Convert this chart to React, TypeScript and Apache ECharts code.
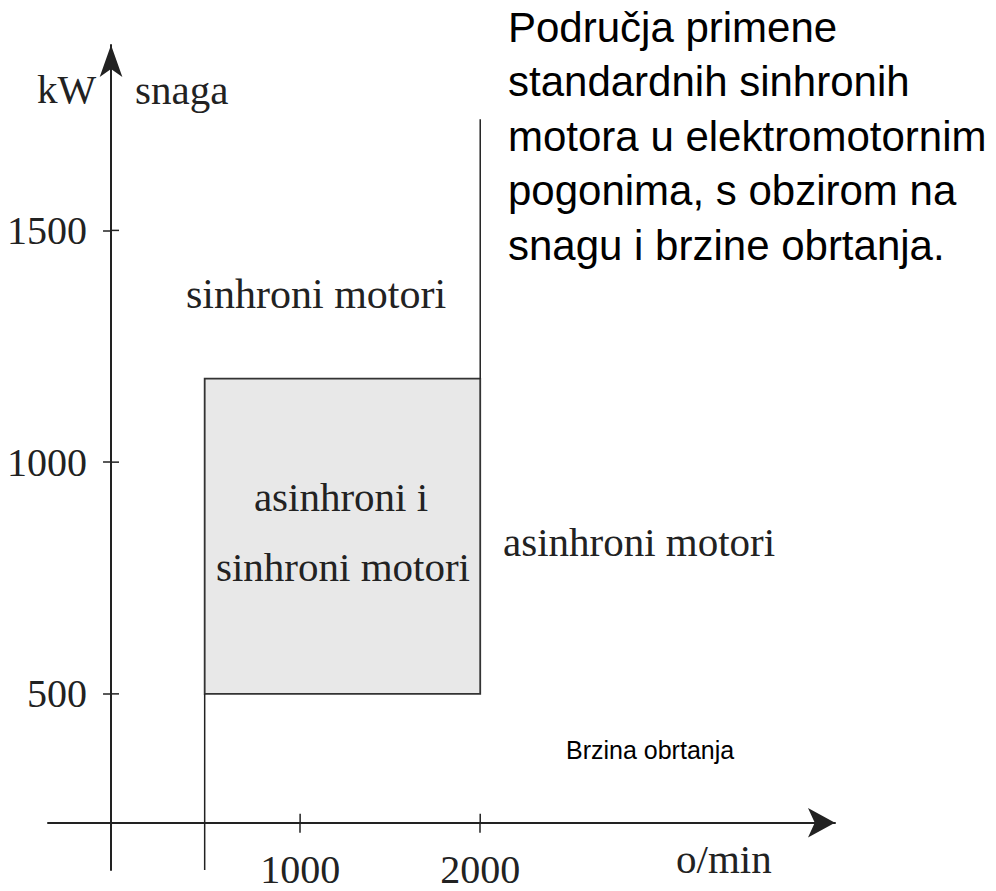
import React, { useEffect, useRef } from "react";
import * as echarts from "echarts";

// Axis extents (x: o/min, y: kW)
const speedRange = [-400, 3970];
const powerRange = [120, 1900];
// Where the axes cross each other
const axisCrossSpeed = -50;
const axisCrossPower = 222;
// Tick values
const speedTicks = [1000, 2000];
const powerTicks = [500, 1000, 1500];
// Shaded region: asinhroni i sinhroni motori
const boxSpeed = [470, 2000];
const boxPower = [500, 1180];
// Boundary lines
const leftBoundary = [
  [470, 120],
  [470, 500],
];
const rightBoundary = [
  [2000, 1180],
  [2000, 1740],
];

const titleLines = [
  "Područja primene",
  "standardnih sinhronih",
  "motora u elektromotornim",
  "pogonima, s obzirom na",
  "snagu i brzine obrtanja.",
];

const SERIF = "'Liberation Serif', 'DejaVu Serif', serif";
const SANS = "'Liberation Sans', Arial, sans-serif";
const INK = "#222";

export default function App() {
  const ref = useRef<HTMLDivElement>(null);
  useEffect(() => {
    if (!ref.current) return;
    const chart = echarts.init(ref.current, undefined, { renderer: "svg" });
    const W = 996;
    const H = 891;
    const gLeft = 48;
    const gRight = 161;
    const gTop = 45;
    const gBottom = 21;
    const gw = W - gLeft - gRight;
    const gh = H - gTop - gBottom;
    const xOff =
      -((axisCrossPower - powerRange[0]) / (powerRange[1] - powerRange[0])) * gh;
    const yOff =
      -((axisCrossSpeed - speedRange[0]) / (speedRange[1] - speedRange[0])) * gw;

    const textStyle = (t: string, size = 41, font = SERIF) => ({
      text: t,
      fill: INK,
      fontSize: size,
      fontFamily: font,
    });

    const tickSeries = (data: number[][], dx: number, dy: number) => ({
      type: "custom",
      coordinateSystem: "cartesian2d",
      xAxisIndex: 0,
      yAxisIndex: 0,
      silent: true,
      clip: false,
      data,
      renderItem: (_p: any, api: any) => {
        const pt = api.coord([api.value(0), api.value(1)]);
        return {
          type: "line",
          shape: { x1: pt[0], y1: pt[1], x2: pt[0] + dx, y2: pt[1] + dy },
          style: { stroke: INK, lineWidth: 1.5 },
        };
      },
    });

    const label = (t: string, x: number, y: number, extra: any = {}, size = 41) => ({
      type: "text",
      x,
      y,
      z: 100,
      style: { ...textStyle(t, size), verticalAlign: "middle", ...extra },
    });

    chart.setOption({
      animation: false,
      backgroundColor: "#fff",
      grid: { left: gLeft, right: gRight, top: gTop, bottom: gBottom, containLabel: false },
      xAxis: {
        type: "value",
        min: speedRange[0],
        max: speedRange[1],
        position: "bottom",
        offset: xOff,
        splitLine: { show: false },
        axisLine: {
          show: true,
          onZero: false,
          lineStyle: { color: INK, width: 2 },
          symbol: ["none", "arrow"],
          symbolSize: [22, 27],
        },
        axisTick: {
          show: true,
          customValues: speedTicks,
          length: 10,
          lineStyle: { color: INK, width: 1.5 },
        },
        axisLabel: {
          show: true,
          customValues: speedTicks,
          formatter: (v: number) => String(v),
          margin: 27,
          fontFamily: SERIF,
          fontSize: 40,
          color: INK,
        },
      },
      yAxis: {
        type: "value",
        min: powerRange[0],
        max: powerRange[1],
        position: "left",
        offset: yOff,
        splitLine: { show: false },
        axisLine: {
          show: true,
          onZero: false,
          lineStyle: { color: INK, width: 2 },
          symbol: ["none", "arrow"],
          symbolSize: [17, 32],
        },
        axisTick: {
          show: true,
          customValues: powerTicks,
          length: 8,
          lineStyle: { color: INK, width: 1.5 },
        },
        axisLabel: {
          show: true,
          customValues: powerTicks,
          formatter: (v: number) => String(v),
          margin: 24,
          fontFamily: SERIF,
          fontSize: 40,
          color: INK,
        },
      },
      series: [
        {
          type: "line",
          data: leftBoundary,
          symbol: "none",
          lineStyle: { color: INK, width: 1.5 },
          silent: true,
          markArea: {
            silent: true,
            itemStyle: { color: "#e8e8e8", borderColor: "#333", borderWidth: 1.8 },
            data: [
              [
                { coord: [boxSpeed[0], boxPower[0]] },
                { coord: [boxSpeed[1], boxPower[1]] },
              ],
            ],
          },
        },
        {
          type: "line",
          data: rightBoundary,
          symbol: "none",
          lineStyle: { color: INK, width: 1.5 },
          silent: true,
        },
        tickSeries(
          speedTicks.map((v) => [v, axisCrossPower]),
          0,
          -9
        ),
        tickSeries(
          powerTicks.map((v) => [axisCrossSpeed, v]),
          8,
          0
        ),
      ],
      graphic: [
        {
          type: "text",
          left: 508,
          top: 0,
          z: 100,
          style: {
            ...textStyle(titleLines.join("\n"), 42, SANS),
            fill: "#000",
            lineHeight: 54.5,
          },
        },
        label("kW", 37, 89),
        label("snaga", 135, 89.5),
        label("sinhroni motori", 186, 293.5, {}, 42),
        label("asinhroni i", 341, 496.5, { align: "center" }),
        label("sinhroni motori", 343, 566.5, { align: "center" }),
        label("asinhroni motori", 503, 541.5),
        label("o/min", 676, 858.5),
        label("Brzina obrtanja", 566, 750, { fontFamily: SANS, fill: "#000" }, 25),
      ],
    });
    return () => chart.dispose();
  }, []);
  return (
    <div
      ref={ref}
      style={{ position: "fixed", left: 0, top: 0, width: 996, height: 891, background: "#fff" }}
    />
  );
}
